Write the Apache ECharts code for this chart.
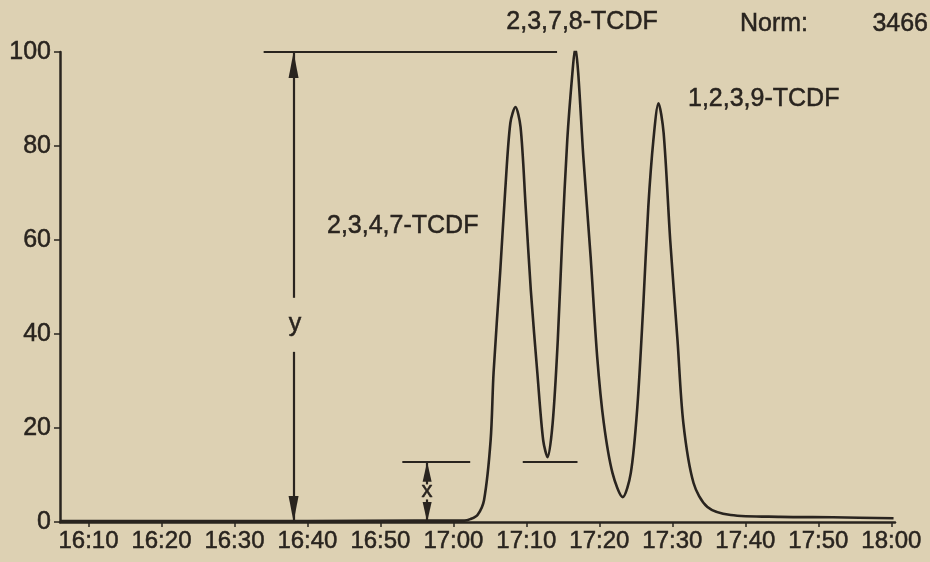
<!DOCTYPE html>
<html>
<head>
<meta charset="utf-8">
<script src="https://cdn.jsdelivr.net/npm/echarts@6/dist/echarts.min.js"></script>
<style>
  html, body { margin: 0; padding: 0; background: #ddd1b3; }
  #chart { width: 930px; height: 562px; }
</style>
</head>
<body>
<div id="chart"></div>
<script>
// time in minutes after 16:00
const times = [6.1, 20, 40, 55, 61.5, 62.3, 63.3, 64.2, 65.1, 65.5, 66.4, 67.1, 67.8, 68.5, 69.2, 69.9, 70.6, 71.5, 72.3, 72.9, 73.6, 74.3, 74.9, 75.6, 76.3, 76.7, 77.1, 77.8, 78.8, 79.7, 80.6, 81.8, 83.2, 84.3, 85.2, 86.0, 86.7, 87.4, 88.1, 88.8, 89.7, 90.7, 91.5, 92.9, 94.8, 98.0, 104.8, 112, 120.3];
const signal = [0.2, 0.2, 0.2, 0.3, 0.3, 0.6, 1.5, 4.7, 17.4, 31.7, 53.0, 70.6, 84.9, 88.3, 84.0, 67.0, 49.4, 31.7, 17.4, 13.8, 21.1, 38.7, 60.0, 81.3, 95.5, 101, 95.5, 77.7, 56.4, 35.1, 21.1, 10.4, 5.3, 10.4, 24.5, 45.7, 67.0, 81.3, 89.1, 82.8, 60.0, 38.7, 21.1, 8.3, 3.2, 1.5, 1.1, 1.0, 0.8];

const tickValues = [10, 20, 30, 40, 50, 60, 70, 80, 90, 100, 110, 120];
const tickLabels = ['16:10', '16:20', '16:30', '16:40', '16:50', '17:00', '17:10', '17:20', '17:30', '17:40', '17:50', '18:00'];

const peakNames = ['2,3,4,7-TCDF', '2,3,7,8-TCDF', '1,2,3,9-TCDF'];
const normLabel = 'Norm:';
const normValue = '3466';

// annotation segments [[t, v], [t, v]]
const topRefLine = [[34.0, 100], [74.2, 100]];
const yArrowUp = [[38.1, 47.7], [38.1, 100]];
const yArrowDown = [[38.1, 36.2], [38.1, 0]];
const xBar = [[53.0, 12.8], [62.3, 12.8]];
const valleyBar = [[69.5, 12.8], [77.0, 12.8]];
const xArrowUp = [[56.4, 8.0], [56.4, 12.8]];
const xArrowDown = [[56.4, 4.8], [56.4, 0]];

const ink = '#29241f';
const FONT = '"Liberation Sans", Arial, sans-serif';
const textStroke = { textBorderColor: ink, textBorderWidth: 0.5 };

const chart = echarts.init(document.getElementById('chart'));

function seg(s, arrow, size) {
  return [
    { coord: s[0], symbol: 'none' },
    { coord: s[1], symbol: arrow ? 'triangle' : 'none', symbolSize: size || [9, 22], symbolOffset: [0, size ? size[1] / 2 : 11] }
  ];
}

function txt(x, y, s, align, size) {
  return { type: 'text', x: x, y: y, style: { text: s, font: (size || 25) + 'px ' + FONT, fill: ink, align: align, verticalAlign: 'middle', stroke: ink, lineWidth: 0.5 } };
}

chart.setOption({
  backgroundColor: '#ddd1b3',
  animation: false,
  grid: { left: 60, right: 35, top: 52, bottom: 40 },
  xAxis: {
    type: 'value',
    min: 6.1,
    max: 120.5,
    axisLine: { show: true, onZero: false, lineStyle: { color: ink, width: 2.5 } },
    axisTick: { show: true, customValues: tickValues, length: 5, lineStyle: { color: ink, width: 1.5 } },
    axisLabel: Object.assign({
      customValues: tickValues,
      color: ink, fontSize: 24, fontFamily: FONT, margin: 7, hideOverlap: false,
      formatter: v => tickLabels[tickValues.indexOf(Math.round(v))] || ''
    }, textStroke),
    splitLine: { show: false }
  },
  yAxis: {
    type: 'value',
    min: 0, max: 100, interval: 20,
    axisLine: { show: true, lineStyle: { color: ink, width: 2.5 } },
    axisTick: { show: true, length: 6, lineStyle: { color: ink, width: 1.5 } },
    axisLabel: Object.assign({ color: ink, fontSize: 25, fontFamily: FONT, margin: 9 }, textStroke),
    splitLine: { show: false }
  },
  series: [{
    type: 'line',
    data: times.map((t, i) => [t, signal[i]]),
    showSymbol: false,
    smooth: 0.3,
    lineStyle: { color: ink, width: 2.6 },
    markLine: {
      silent: true,
      symbol: 'none',
      label: { show: false },
      lineStyle: { color: ink, width: 2.2, type: 'solid' },
      emphasis: { disabled: true },
      data: [
        seg(topRefLine, false),
        seg(yArrowUp, true, [10, 26]),
        seg(yArrowDown, true, [10, 26]),
        seg(xBar, false),
        seg(valleyBar, false),
        seg(xArrowUp, true, [9, 20]),
        seg(xArrowDown, true, [9, 20])
      ]
    }
  }],
  graphic: [
    txt(582, 22, peakNames[1], 'center'),
    txt(740, 24, normLabel, 'left'),
    txt(928, 24, normValue, 'right'),
    txt(688, 99, peakNames[2], 'left'),
    txt(327, 226, peakNames[0], 'left'),
    txt(295, 324, 'y', 'center'),
    txt(427, 491, 'x', 'center', 22)
  ]
});
</script>
</body>
</html>
